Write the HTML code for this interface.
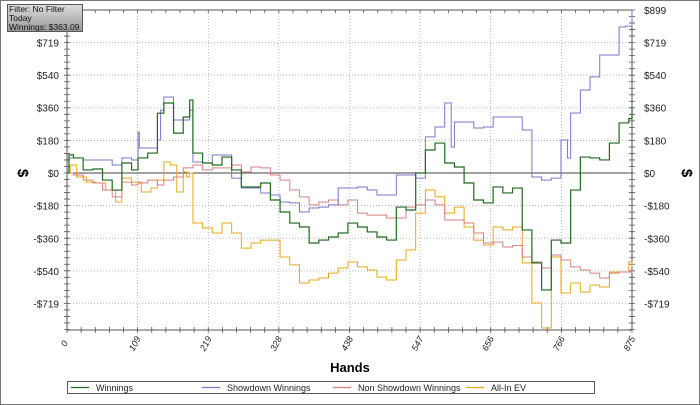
<!DOCTYPE html>
<html><head><meta charset="utf-8">
<style>
html,body{margin:0;padding:0;background:#fff;}
body{width:700px;height:405px;overflow:hidden;font-family:"Liberation Sans",sans-serif;}
#frame{position:absolute;left:0;top:0;width:698px;height:403px;border:1px solid #777;}
#filter{position:absolute;left:7px;top:4px;width:76px;height:28px;border:1px solid #555;background:linear-gradient(#ddd,#999);font-size:8.5px;line-height:9px;padding-left:1px;color:#111;box-sizing:border-box;white-space:nowrap;overflow:hidden;}
</style></head>
<body>
<div id="frame"></div>
<svg id="chart" width="700" height="405" style="position:absolute;left:0;top:0"></svg>
<div id="filter">Filter: No Filter<br>Today<br>Winnings: $363.09</div>
<script>
const xTicks=[0,109,219,328,438,547,656,766,875];
const yTicks=[-899,-719,-540,-360,-180,0,180,360,540,719,899];
const yTickLabels=["","-$719","-$540","-$360","-$180","$0","$180","$360","$540","$719","$899"];
const winHands=[0,3,10,25,40,55,70,85,100,110,125,140,150,165,180,190,195,210,225,240,255,270,285,300,315,330,345,360,375,390,405,420,435,450,465,480,495,510,525,540,555,570,585,600,615,630,645,660,675,690,705,720,735,750,765,780,795,810,825,840,855,870,875];
const winVals=[0,100,83,17,22,-39,-94,55,17,83,110,330,386,220,309,403,110,55,44,88,17,-77,-77,-55,-149,-215,-276,-298,-386,-370,-353,-331,-276,-298,-325,-353,-370,-188,-204,0,127,165,55,33,-55,-149,-165,-77,-110,-83,-314,-496,-645,-370,-386,-94,88,83,72,165,276,300,363];
const sdHands=[0,3,25,70,85,100,110,112,125,140,145,150,165,180,190,195,210,225,240,255,270,285,300,315,330,345,360,375,390,405,420,435,450,465,480,495,510,525,540,555,570,585,595,600,615,630,645,660,675,690,705,720,735,750,765,775,780,795,810,825,840,855,865,875];
const sdVals=[0,83,72,44,83,72,226,138,138,182,347,419,292,292,347,61,55,99,99,-28,-83,-83,-110,-121,-160,-165,-215,-193,-188,-176,-83,-83,-77,-94,-121,-121,-11,-11,-28,199,254,386,143,281,281,248,254,309,309,309,237,-22,-39,-28,182,83,331,458,530,651,651,805,810,899];
const nsHands=[0,10,25,40,55,70,85,100,110,125,140,150,165,180,195,210,225,240,255,270,285,300,315,330,345,360,375,390,405,420,435,450,465,480,495,510,525,540,555,570,585,600,615,630,645,660,675,690,705,720,735,750,765,780,795,810,825,840,855,875];
const nsVals=[0,-11,-39,-55,-94,-132,-50,-66,-55,-39,-66,-39,-22,28,44,17,28,28,44,6,33,28,-11,-39,-94,-132,-176,-160,-149,-176,-149,-221,-232,-232,-248,-248,-188,-176,-149,-176,-259,-259,-276,-331,-386,-381,-408,-400,-463,-491,-524,-452,-480,-518,-535,-552,-579,-552,-546,-535];
const evHands=[0,5,15,30,45,60,75,85,100,115,130,140,150,160,170,180,185,190,195,210,225,240,255,270,285,300,315,330,345,360,375,390,405,420,435,450,465,480,495,510,525,540,555,570,585,600,615,630,645,660,675,690,705,720,735,750,765,780,795,810,825,840,855,870,875];
const evVals=[0,44,-22,-50,-55,-94,-160,-28,-50,-105,-83,-39,61,44,-105,6,-22,0,-276,-303,-331,-276,-331,-414,-386,-370,-370,-463,-507,-607,-590,-579,-552,-524,-491,-518,-535,-574,-590,-480,-425,-221,-94,-132,-221,-188,-298,-370,-397,-298,-314,-298,-496,-717,-855,-463,-662,-607,-656,-618,-629,-546,-546,-491,-518];
const seriesNames=["Winnings","Showdown Winnings","Non Showdown Winnings","All-In EV"];
const seriesColors=["#1f6b1f","#7777cc","#d98080","#e8a818"];

const svg=document.getElementById('chart');
const NS='http://www.w3.org/2000/svg';
const X0=67,X1=632,Y0=10,Y1=330;
function xs(h){return X0+h*(X1-X0)/875;}
function ys(v){return 173-v*163/899;}
function el(t,a,p){const e=document.createElementNS(NS,t);for(const k in a)e.setAttribute(k,a[k]);(p||svg).appendChild(e);return e;}

xTicks.forEach(t=>{if(t>0&&t<875){const g=el('line',{x1:xs(t),x2:xs(t),y1:Y0,y2:Y1,stroke:'#bbb','stroke-dasharray':'1,2'});

}});
yTicks.forEach(t=>{if(t!==0&&Math.abs(t)<899){const g=el('line',{x1:X0,x2:X1,y1:ys(t),y2:ys(t),stroke:'#bbb','stroke-dasharray':'1,2'});

}});
const ax=el('path',{d:`M${X0},${Y0}H${X1}M${X0},${Y0}V${Y1}M${X1},${Y0}V${Y1}M${X0},${Y1}H${X1}`,stroke:'#555',fill:'none'});


const zl=el('line',{x1:X0,x2:X1,y1:ys(0),y2:ys(0),stroke:'#444'});


let d='';
for(let i=0;i<=40;i++){const x=X0+i*(X1-X0)/40;d+=`M${x},${Y1-3}V${Y1+3}M${x},${Y0}V${Y0+3}`;}
for(let i=0;i<=50;i++){const y=ys(-899+i*1798/50);if(y>Y1+1)continue;d+=`M${X0-3},${y}H${X0+3}M${X1-3},${y}H${X1+3}`;}
const mt=el('path',{d:d,stroke:'#555','stroke-width':0.8});


yTicks.forEach((t,i)=>{if(!yTickLabels[i])return;
 if(i<yTicks.length-1){const a=el('text',{x:X0-8,y:ys(t)+4,'text-anchor':'end','font-size':10,fill:'#222'});a.textContent=yTickLabels[i];
 
 }
 const b=el('text',{x:X1+12,y:ys(t)+4,'font-size':10,fill:'#222'});b.textContent=yTickLabels[i];
 
 });
xTicks.forEach(t=>{const a=el('text',{x:0,y:0,'text-anchor':'middle','font-size':9,'font-style':'italic',fill:'#222',transform:`translate(${xs(t)},${345}) rotate(-62)`});a.textContent=t;

});
const xt=el('text',{x:350,y:372,'text-anchor':'middle','font-size':13,'font-weight':'bold'});xt.textContent='Hands';


[18,682].forEach((x,i)=>{const t=el('text',{x:0,y:0,'text-anchor':'middle','font-size':15,'font-weight':'bold',transform:`translate(${x},${173}) rotate(90)`});t.textContent='$';

});
const HS=[winHands,sdHands,nsHands,evHands],VS=[winVals,sdVals,nsVals,evVals];
const order=[3,2,1,0];
order.forEach(s=>{let p='';HS[s].forEach((h,i)=>{const x=xs(h),y=ys(VS[s][i]);if(i===0)p=`M${x},${y}`;else p+=`H${x}V${y}`;});
 const l=el('path',{d:p,stroke:seriesColors[s],fill:'none','stroke-width':s===0?1.2:1});
 
 });
const lg=el('rect',{x:67.5,y:381.5,width:527,height:12,fill:'#fff',stroke:'#555'});


const lx=[71,202,333,466];
seriesNames.forEach((n,i)=>{const g=el('g',{});
 
 
 el('line',{x1:lx[i],x2:lx[i]+18,y1:387.5,y2:387.5,stroke:seriesColors[i],'stroke-width':1.2},g);
 const t=el('text',{x:lx[i]+25,y:391,'font-size':9,fill:'#222'},g);t.textContent=n;});
</script>
</body></html>
